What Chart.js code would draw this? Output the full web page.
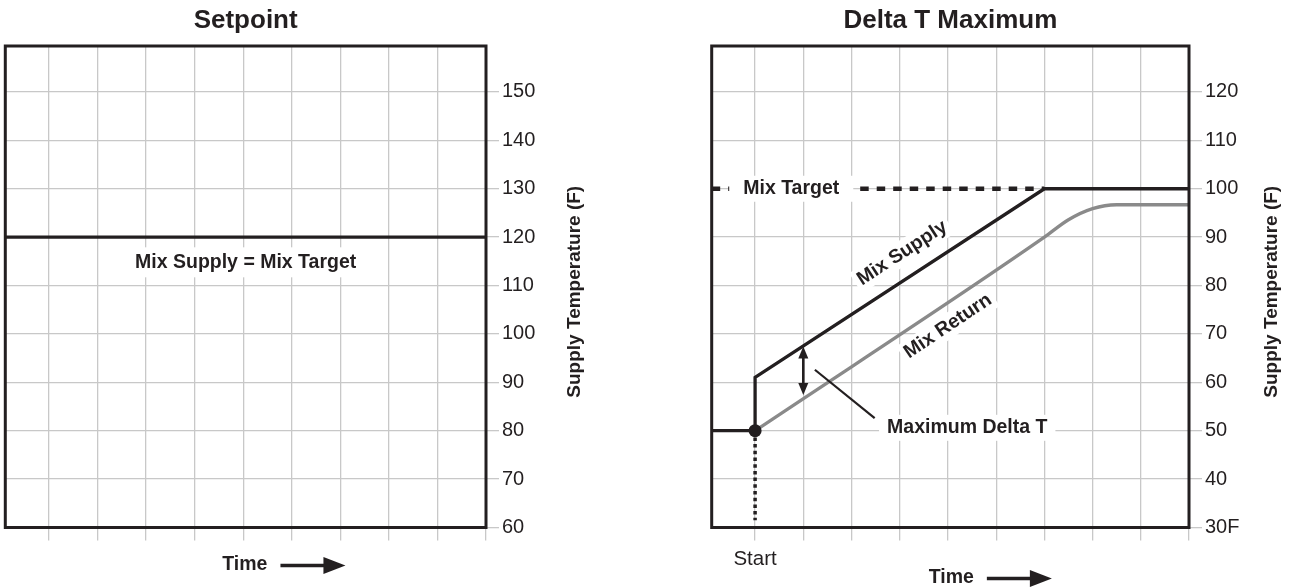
<!DOCTYPE html>
<html>
<head>
<meta charset="utf-8">
<script src="https://cdn.jsdelivr.net/npm/chart.js@4.4.1/dist/chart.umd.min.js"></script>
<style>
  body { margin: 0; background: #fff; }
  .box { position: absolute; top: 0; height: 588px; }
  #left { left: 0; width: 640px; }
  #right { left: 646px; width: 647px; }
</style>
</head>
<body>
<div class="box" id="left"><canvas id="setpoint-chart"></canvas></div>
<div class="box" id="right"><canvas id="delta-chart"></canvas></div>
<script>
// tick values
const timeTicks = [1, 2, 3, 4, 5, 6, 7, 8, 9, 10];
const setpointTicks = [60, 70, 80, 90, 100, 110, 120, 130, 140, 150];
const deltaTicks = [30, 40, 50, 60, 70, 80, 90, 100, 110, 120];

// setpoint chart
const setpointTime = [0.1, 10];
const setpointSupply = [120, 120];

// delta T chart
const supplyTime = [0.1, 1, 1, 7, 10];
const supplyTemp = [50, 50, 61, 100, 100];
const returnTime = [1, 7, 7.5, 8, 8.5, 10];
const returnTemp = [50, 90, 93.6, 95.9, 96.7, 96.7];
const targetTime = [0.1, 7];
const targetTemp = [100, 100];
const startTime = [1, 1];
const startTemp = [50, 31.5];

const ink = '#231f20';
const gridGrey = '#c8c8c8';
const family = "'Liberation Sans', Arial, sans-serif";
const bold = size => `bold ${size}px ${family}`;

const pts = (xs, ys) => xs.map((x, i) => ({x, y: ys[i]}));

// frame, labels, arrows drawn on top of the datasets
const notes = {
  id: 'notes',
  afterDatasetsDraw(chart, args, opts) {
    const {ctx, chartArea: a} = chart;
    const xs = chart.scales.x, ys = chart.scales.y;
    const px = v => xs.getPixelForValue(v);
    const py = v => ys.getPixelForValue(v);
    ctx.save();

    ctx.strokeStyle = ink;
    ctx.lineWidth = 3;
    ctx.strokeRect(a.left, a.top, a.right - a.left, a.bottom - a.top);

    // leader lines
    ctx.lineWidth = 2.2;
    (opts.leaders || []).forEach(l => {
      ctx.beginPath();
      ctx.moveTo(px(l.x0), py(l.y0));
      ctx.lineTo(px(l.x1), py(l.y1));
      ctx.stroke();
    });

    // double headed arrows
    ctx.fillStyle = ink;
    (opts.arrows || []).forEach(ar => {
      const x = px(ar.x), top = py(ar.y0), bot = py(ar.y1);
      ctx.lineWidth = 2.6;
      ctx.beginPath();
      ctx.moveTo(x, top + 8);
      ctx.lineTo(x, bot - 8);
      ctx.stroke();
      ctx.beginPath();
      ctx.moveTo(x, top); ctx.lineTo(x - 5, top + 12); ctx.lineTo(x + 5, top + 12);
      ctx.closePath(); ctx.fill();
      ctx.beginPath();
      ctx.moveTo(x, bot); ctx.lineTo(x - 5, bot - 12); ctx.lineTo(x + 5, bot - 12);
      ctx.closePath(); ctx.fill();
    });

    // text labels with white backing
    (opts.labels || []).forEach(l => {
      ctx.save();
      ctx.translate(px(l.x), py(l.y));
      ctx.rotate(-(l.angle || 0) * Math.PI / 180);
      ctx.font = bold(19.5);
      const w = ctx.measureText(l.text).width;
      ctx.fillStyle = '#fff';
      ctx.fillRect(-w / 2 - l.padX, -11 - l.padY, w + 2 * l.padX, 22 + 2 * l.padY);
      ctx.fillStyle = ink;
      ctx.textAlign = 'center';
      ctx.textBaseline = 'middle';
      ctx.fillText(l.text, 0, 0);
      ctx.restore();
    });

    // axis title on the right
    ctx.save();
    ctx.translate(a.right + opts.titleGap, (a.top + a.bottom) / 2 + 5);
    ctx.rotate(-Math.PI / 2);
    ctx.font = bold(19);
    ctx.fillStyle = ink;
    ctx.textAlign = 'center';
    ctx.textBaseline = 'middle';
    ctx.fillText('Supply Temperature (F)', 0, 0);
    ctx.restore();

    // Time -->
    const tx = a.left + 217, ty = a.bottom + opts.timeDrop;
    ctx.font = bold(19.5);
    ctx.fillStyle = ink;
    ctx.textAlign = 'left';
    ctx.textBaseline = 'middle';
    ctx.fillText('Time', tx, ty);
    const ex = tx + ctx.measureText('Time').width;
    ctx.lineWidth = 3.5;
    ctx.beginPath();
    ctx.moveTo(ex + 13, ty + 1);
    ctx.lineTo(ex + 58, ty + 1);
    ctx.stroke();
    ctx.beginPath();
    ctx.moveTo(ex + 78, ty + 1);
    ctx.lineTo(ex + 56, ty - 7.5);
    ctx.lineTo(ex + 56, ty + 9.5);
    ctx.closePath();
    ctx.fill();

    ctx.restore();
  }
};

const makeScales = (yMin, yMax, yTicks, yWidth, xLabel) => ({
  x: {
    type: 'linear',
    min: 0.1,
    max: 10,
    afterBuildTicks: s => { s.ticks = timeTicks.map(v => ({value: v})); },
    afterFit: s => { s.height = 60.5; },
    grid: {color: gridGrey, lineWidth: 1.3, tickLength: 13, tickColor: gridGrey},
    border: {display: false},
    ticks: {
      autoSkip: false,
      maxRotation: 0,
      padding: 7,
      color: ink,
      font: {family, size: 20.5},
      callback: v => xLabel(v)
    }
  },
  y: {
    type: 'linear',
    position: 'right',
    min: yMin,
    max: yMax,
    afterBuildTicks: s => { s.ticks = yTicks.map(v => ({value: v})); },
    afterFit: s => { s.width = yWidth; },
    grid: {color: gridGrey, lineWidth: 1.3, tickLength: 13, tickColor: gridGrey},
    border: {display: false},
    ticks: {
      autoSkip: false,
      padding: 3,
      color: ink,
      font: {family, size: 20},
      callback: v => (v === 30 ? '30F' : String(v))
    }
  }
});

const lineSet = (data, color, extra) => Object.assign({
  data,
  borderColor: color,
  borderWidth: 3.3,
  pointRadius: 0,
  fill: false,
  tension: 0
}, extra);

const titleOpts = text => ({
  display: true,
  text,
  fullSize: false,
  color: ink,
  font: {family, size: 26, weight: 'bold', lineHeight: 1.2},
  padding: {top: 5, bottom: 9.8}
});

Chart.defaults.font.family = family;

new Chart(document.getElementById('setpoint-chart'), {
  type: 'line',
  data: {
    datasets: [lineSet(pts(setpointTime, setpointSupply), ink)]
  },
  options: {
    responsive: true,
    maintainAspectRatio: false,
    animation: false,
    layout: {padding: {left: 5.3, top: 0, right: 0, bottom: 0}},
    scales: makeScales(60, 159.5, setpointTicks, 154, () => ''),
    plugins: {
      legend: {display: false},
      tooltip: {enabled: false},
      title: titleOpts('Setpoint'),
      notes: {
        timeDrop: 37,
        titleGap: 89,
        labels: [{text: 'Mix Supply = Mix Target', x: 5.05, y: 114.8, padX: 6, padY: 4}]
      }
    }
  },
  plugins: [notes]
});

new Chart(document.getElementById('delta-chart'), {
  type: 'line',
  data: {
    datasets: [
      lineSet([{x: 1, y: 50}], ink, {pointRadius: 6.5, pointBackgroundColor: ink, pointBorderWidth: 0, showLine: false}),
      lineSet(pts(supplyTime, supplyTemp), ink),
      lineSet(pts(returnTime, returnTemp), '#8a8a8a', {cubicInterpolationMode: 'monotone'}),
      lineSet(pts(targetTime, targetTemp), ink, {borderWidth: 4.5, borderDash: [8.5, 8]}),
      lineSet(pts(startTime, startTemp), ink, {borderWidth: 3.5, borderDash: [3.5, 3.2]})
    ]
  },
  options: {
    responsive: true,
    maintainAspectRatio: false,
    animation: false,
    layout: {padding: {left: 65.7, top: 0, right: 0, bottom: 0}},
    scales: makeScales(30, 129.5, deltaTicks, 104, v => (v === 1 ? 'Start' : '')),
    plugins: {
      legend: {display: false},
      tooltip: {enabled: false},
      title: titleOpts('Delta T Maximum'),
      notes: {
        timeDrop: 50,
        titleGap: 83,
        leaders: [{x0: 2.24, y0: 62.6, x1: 3.48, y1: 52.6}],
        arrows: [{x: 2, y0: 67.4, y1: 57.4}],
        labels: [
          {text: 'Mix Target', x: 1.75, y: 100, padX: 14, padY: 2},
          {text: 'Mix Supply', x: 4.05, y: 86.7, angle: 33, padX: 4, padY: 1},
          {text: 'Mix Return', x: 5.0, y: 71.6, angle: 33.8, padX: 4, padY: 1},
          {text: 'Maximum Delta T', x: 5.4, y: 50.6, padX: 8, padY: 2}
        ]
      }
    }
  },
  plugins: [notes]
});
</script>
</body>
</html>
